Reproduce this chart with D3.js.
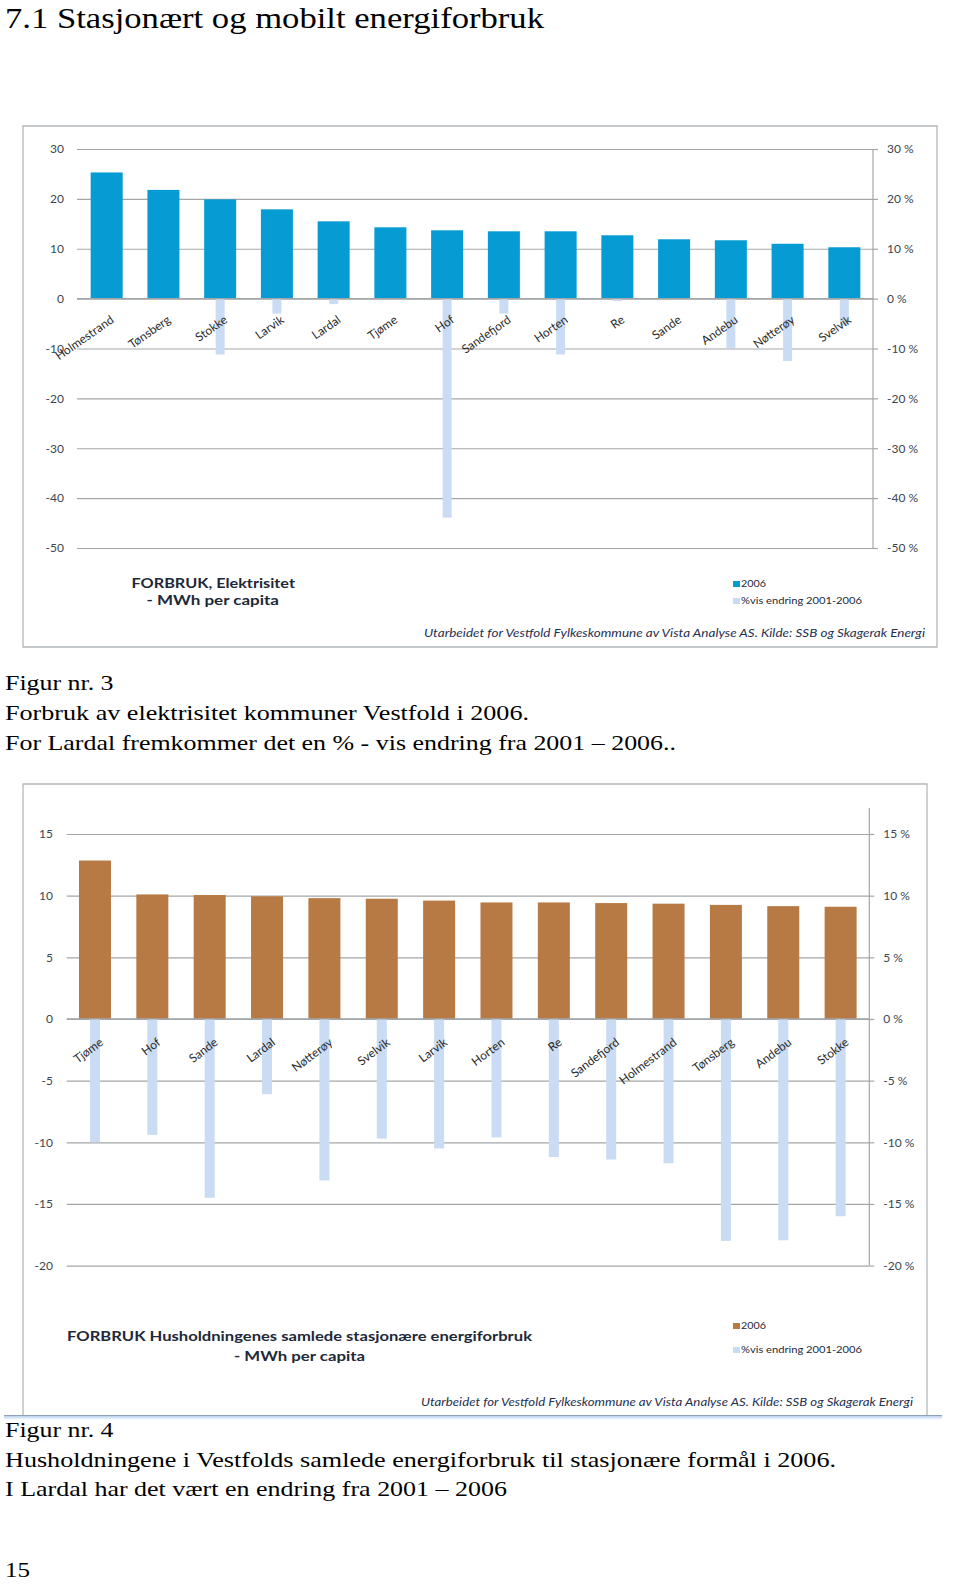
<!DOCTYPE html>
<html>
<head>
<meta charset="utf-8">
<script src="https://cdn.jsdelivr.net/npm/d3@7"></script>
<style>
  body { margin: 0; background: #fff; }
  svg { display: block; }
</style>
</head>
<body>
<script>
// ---------- DATA ----------
const pageTitle = "7.1 Stasjonært og mobilt energiforbruk";

const cats1 = ["Holmestrand","Tønsberg","Stokke","Larvik","Lardal","Tjøme","Hof","Sandefjord","Horten","Re","Sande","Andebu","Nøtterøy","Svelvik"];
const mwh1  = [25.3, 21.8, 19.9, 17.9, 15.5, 14.3, 13.7, 13.5, 13.5, 12.7, 11.9, 11.7, 11.0, 10.3];
const pct1  = [0, 0, -11.2, -3.0, -1.1, 0, -43.9, -3.0, -11.2, -0.5, 0, -9.9, -12.5, -5.4];
const ticks1 = [30, 20, 10, 0, -10, -20, -30, -40, -50];
const title1 = ["FORBRUK, Elektrisitet", "- MWh per capita"];

const cats2 = ["Tjøme","Hof","Sande","Lardal","Nøtterøy","Svelvik","Larvik","Horten","Re","Sandefjord","Holmestrand","Tønsberg","Andebu","Stokke"];
const mwh2  = [12.85, 10.1, 10.05, 9.95, 9.8, 9.75, 9.6, 9.45, 9.45, 9.4, 9.35, 9.25, 9.15, 9.1];
const pct2  = [-10.0, -9.4, -14.5, -6.1, -13.1, -9.7, -10.5, -9.6, -11.2, -11.4, -11.7, -18.0, -17.95, -16.0];
const ticks2 = [15, 10, 5, 0, -5, -10, -15, -20];
const title2 = ["FORBRUK Husholdningenes samlede stasjonære energiforbruk", "- MWh per capita"];

const legendLabels = ["2006", "%vis endring 2001-2006"];
const sourceText = "Utarbeidet for Vestfold Fylkeskommune av Vista Analyse AS. Kilde: SSB og Skagerak Energi";

const caption1 = ["Figur nr. 3", "Forbruk av elektrisitet kommuner Vestfold i 2006.", "For Lardal fremkommer det en % - vis endring fra 2001 \u2013 2006.."];
const caption2 = ["Figur nr. 4", "Husholdningene i Vestfolds samlede energiforbruk til stasjonære formål i 2006.", "I Lardal har det vært en endring fra 2001 \u2013 2006"];
const pageNumber = "15";

// ---------- DRAW ----------
const W = 960, H = 1589;
const svg = d3.select("body").append("svg").attr("width", W).attr("height", H);
svg.append("rect").attr("width", W).attr("height", H).attr("fill", "#fff");

const SERIF = "'Liberation Serif', 'Times New Roman', serif";
const SANS = "Lato, 'Open Sans', sans-serif";

function fitText(sel, len) {
  sel.attr("textLength", len).attr("lengthAdjust", "spacingAndGlyphs");
}

// page title
svg.append("text").attr("x", 5).attr("y", 28)
  .attr("font-family", SERIF).attr("font-size", 30).attr("fill", "#000")
  .text(pageTitle).call(fitText, 539);

function drawChart(cfg) {
  const g = svg.append("g");
  // frame
  g.append("path")
    .attr("d", cfg.frame)
    .attr("fill", "none").attr("stroke", "#b4b8bc").attr("stroke-width", 1.3);

  const y = d3.scaleLinear().domain(cfg.yDomain).range(cfg.yRange);
  const x = d3.scaleBand().domain(cfg.cats).range(cfg.xRange)
    .paddingInner(cfg.padIn).paddingOuter(cfg.padIn / 2);

  // left axis with gridlines
  const la = g.append("g").attr("transform", `translate(${cfg.gridLeft},0)`)
    .call(d3.axisLeft(y).tickValues(cfg.ticks).tickSize(-(cfg.axisRight - cfg.gridLeft))
      .tickPadding(cfg.gridLeft - cfg.labelRight).tickFormat(d => String(d)));
  la.select(".domain").remove();
  la.selectAll(".tick line").attr("stroke", "#a3a6a9").attr("stroke-width", 1.2);
  la.selectAll(".tick text").attr("font-family", SANS).attr("font-size", 12).attr("fill", "#3c4650");

  // right axis
  const ra = g.append("g").attr("transform", `translate(${cfg.axisRight},0)`)
    .call(d3.axisRight(y).tickValues(cfg.ticks).tickSize(5).tickSizeOuter(0).tickPadding(cfg.rightPad)
      .tickFormat(d => String(d) + " %"));
  ra.select(".domain").remove();
  ra.selectAll(".tick line").attr("stroke", "#a3a6a9").attr("stroke-width", 1.2);
  ra.selectAll(".tick text").attr("font-family", SANS).attr("font-size", 12).attr("fill", "#3c4650");
  g.append("line")
    .attr("x1", cfg.axisRight).attr("x2", cfg.axisRight)
    .attr("y1", y(cfg.yDomain[1]) - cfg.axisExtraTop).attr("y2", y(cfg.yDomain[0]))
    .attr("stroke", "#a3a6a9").attr("stroke-width", 1.2);

  // main bars
  g.append("g").selectAll("rect").data(cfg.cats).join("rect")
    .attr("x", d => x(d))
    .attr("width", x.bandwidth())
    .attr("y", (d, i) => y(Math.max(0, cfg.main[i])))
    .attr("height", (d, i) => Math.abs(y(cfg.main[i]) - y(0)))
    .attr("fill", cfg.mainColor);

  // percentage bars
  const pw = cfg.pctWidth;
  g.append("g").selectAll("rect").data(cfg.cats).join("rect")
    .attr("x", d => x(d) + x.bandwidth() / 2 - pw / 2)
    .attr("width", pw)
    .attr("y", (d, i) => y(Math.max(0, cfg.pct[i])))
    .attr("height", (d, i) => Math.abs(y(cfg.pct[i]) - y(0)))
    .attr("fill", "#c9dcf3");

  // zero line on top
  g.append("line").attr("x1", cfg.gridLeft).attr("x2", cfg.axisRight)
    .attr("y1", y(0)).attr("y2", y(0)).attr("stroke", "#a3a6a9").attr("stroke-width", 1.2);

  // category labels
  g.append("g").selectAll("text").data(cfg.cats).join("text")
    .attr("transform", d => `translate(${x(d) + x.bandwidth() / 2 + cfg.lblDx},${y(0) + cfg.lblDy}) rotate(${cfg.lblRot})`)
    .attr("text-anchor", "end")
    .attr("font-family", SANS).attr("font-size", 12).attr("fill", "#2a2a2a")
    .text(d => d);

  // title
  cfg.titlePos.forEach((p, i) => {
    g.append("text").attr("x", p[0]).attr("y", p[1])
      .attr("font-family", SANS).attr("font-weight", "bold").attr("font-size", cfg.titleSize)
      .attr("fill", "#1d2838").text(cfg.title[i]).call(fitText, p[2]);
  });

  // legend
  const legColors = [cfg.mainColor, "#c9dcf3"];
  cfg.legendY.forEach((ly, i) => {
    g.append("rect").attr("x", 733).attr("y", ly - 6).attr("width", 7).attr("height", 6).attr("fill", legColors[i]);
    g.append("text").attr("x", 741).attr("y", ly)
      .attr("font-family", SANS).attr("font-size", 9.5).attr("fill", "#1d2838")
      .text(legendLabels[i]).call(fitText, i === 0 ? 25 : 121);
  });

  // source
  g.append("text").attr("x", cfg.source[0]).attr("y", cfg.source[1])
    .attr("font-family", SANS).attr("font-style", "italic").attr("font-size", 10.5)
    .attr("fill", "#1f3050").text(sourceText).call(fitText, cfg.source[2]);
}

drawChart({
  frame: "M23,126 H937 V647 H23 Z",
  cats: cats1, main: mwh1, pct: pct1, ticks: ticks1,
  yDomain: [-50, 30], yRange: [548, 149],
  xRange: [78.3, 872.7], padIn: 0.436,
  gridLeft: 77, labelRight: 64, axisRight: 873, rightPad: 9, axisExtraTop: 0,
  mainColor: "#069bd2", pctWidth: 9,
  lblDx: 8, lblDy: 23, lblRot: -35,
  title: title1, titleSize: 13,
  titlePos: [[131.5, 588, 163.5], [146.5, 605, 132.5]],
  legendY: [587, 604],
  source: [424, 637, 501]
});

drawChart({
  frame: "M23,1415 V784 H927 V1415",
  cats: cats2, main: mwh2, pct: pct2, ticks: ticks2,
  yDomain: [-20, 15], yRange: [1265.6, 834],
  xRange: [66.3, 869.3], padIn: 0.442,
  gridLeft: 66.7, labelRight: 53, axisRight: 869.3, rightPad: 9, axisExtraTop: 26,
  mainColor: "#b87a45", pctWidth: 10,
  lblDx: 9, lblDy: 25, lblRot: -37,
  title: title2, titleSize: 14,
  titlePos: [[67, 1341, 465], [234, 1361, 131]],
  legendY: [1329, 1353],
  source: [421, 1406, 492]
});

// bottom bluish rule under chart 2
const grad = svg.append("defs").append("linearGradient").attr("id", "fade")
  .attr("x1", 0).attr("x2", 0).attr("y1", 0).attr("y2", 1);
grad.append("stop").attr("offset", 0).attr("stop-color", "#b9d2ee");
grad.append("stop").attr("offset", 1).attr("stop-color", "#ffffff");
svg.append("rect").attr("x", 4).attr("y", 1416).attr("width", 938).attr("height", 4).attr("fill", "url(#fade)");
svg.append("line").attr("x1", 4).attr("x2", 942).attr("y1", 1415.5).attr("y2", 1415.5)
  .attr("stroke", "#8ea2bb").attr("stroke-width", 1.2);

// captions
function caption(lines, ys, widths) {
  lines.forEach((t, i) => {
    svg.append("text").attr("x", 5).attr("y", ys[i])
      .attr("font-family", SERIF).attr("font-size", 22).attr("fill", "#000")
      .text(t).call(fitText, widths[i]);
  });
}
caption(caption1, [690, 720, 749.5], [108.5, 524, 671]);
caption(caption2, [1437, 1467, 1496], [108.5, 831, 502]);

svg.append("text").attr("x", 5).attr("y", 1577)
  .attr("font-family", SERIF).attr("font-size", 22).attr("fill", "#000")
  .text(pageNumber).call(fitText, 25);
</script>
</body>
</html>
